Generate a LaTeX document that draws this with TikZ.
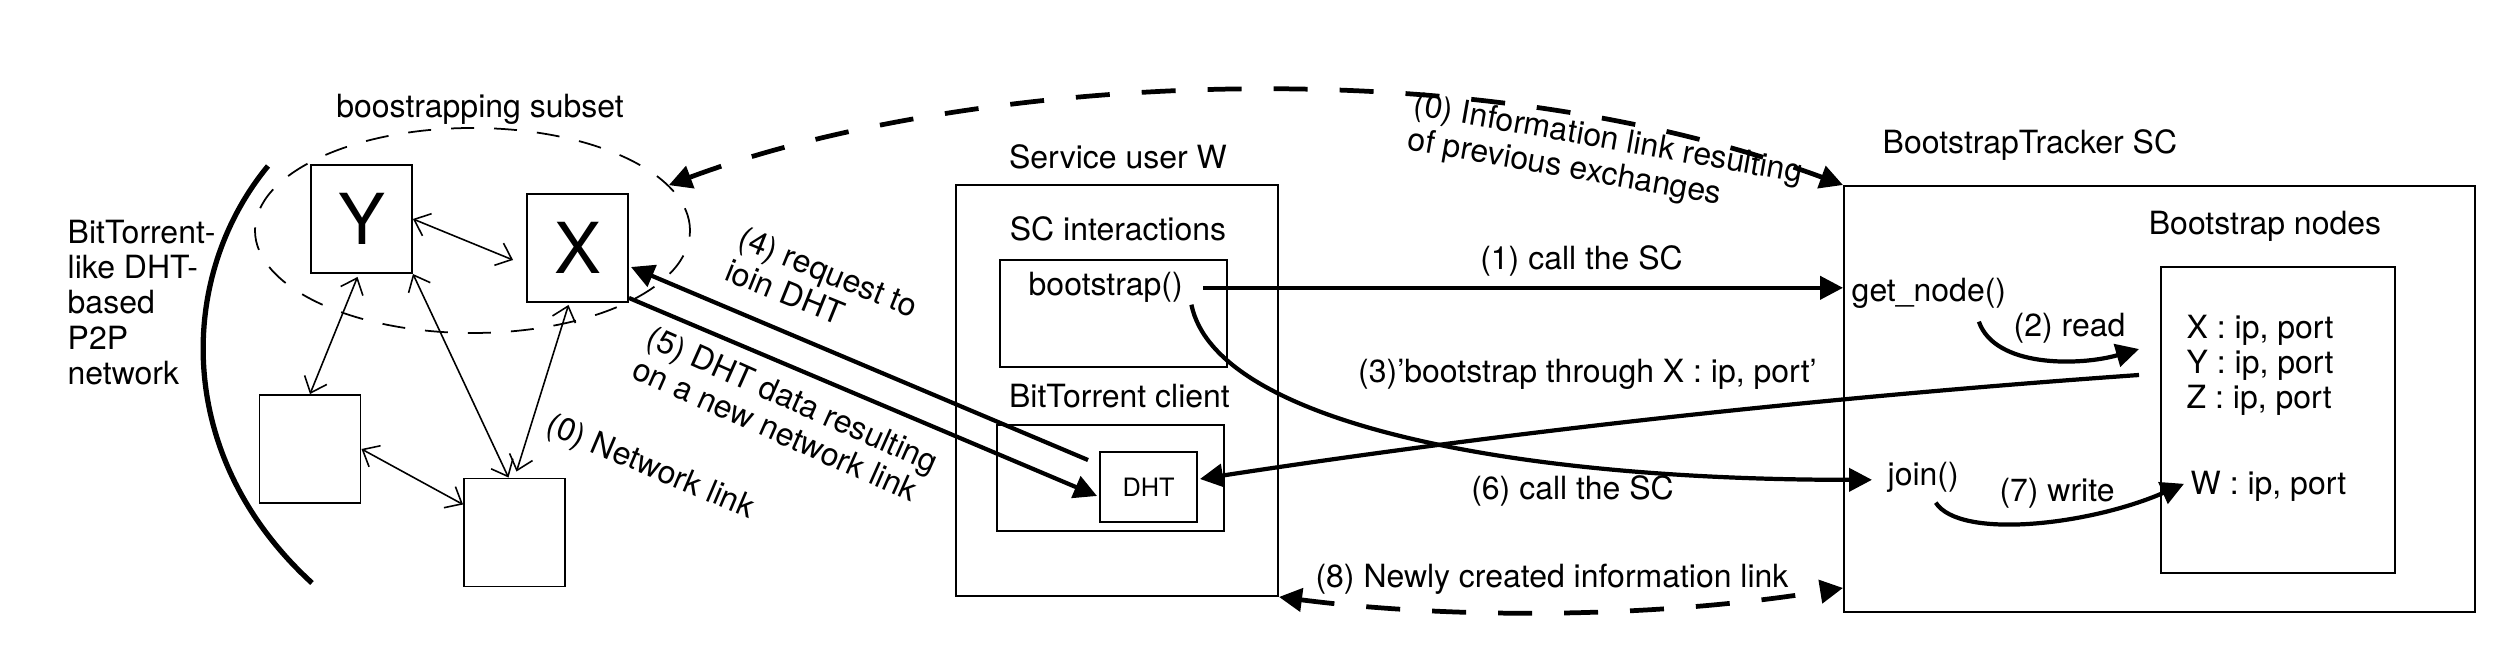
\documentclass[tikz,border=0pt]{standalone}
\usepackage{fontspec}
\setmainfont{TeX Gyre Heros}
\usetikzlibrary{arrows.meta,positioning,shapes.geometric}
\tikzset{>={Triangle[length=2.3mm,width=2.3mm]},
  peer/.style={draw,line width=0.55pt,minimum width=1.01cm,minimum height=1.08cm,
    inner sep=0pt,font=\fontsize{20}{24}\selectfont},
  frame/.style={draw,line width=0.55pt,inner sep=0pt},
  lbl/.style={inner sep=0pt},
  link/.style={line width=0.45pt,>={Straight Barb[length=1.4mm,width=2.4mm]},<->},
  flow/.style={line width=1.2pt},
  infolink/.style={line width=1.35pt,dash pattern=on 3.4mm off 3.2mm,<->},
  group/.style={draw,ellipse,line width=0.5pt,dash pattern=on 2.3mm off 2mm,inner sep=0pt}}

\begin{document}
\begin{tikzpicture}[x=1cm,y=-1cm,font=\fontsize{9.1}{10}\selectfont]
  \useasboundingbox (0,0) rectangle (25.16,6.62);
  % P2P network side
  \node[lbl,anchor=west,align=left] (net) at (0.67,3.025) {BitTorrent-\\like DHT-\\based\\P2P\\network};
  \draw[line width=1.5pt] (2.68,1.66) .. controls (1.78,2.75) and (1.72,4.55) .. (3.12,5.83);
  \node[group,minimum width=4.35cm,minimum height=2.05cm] (subset) at (4.725,2.305) {};
  \node[lbl,anchor=base] (subsetlbl) at (4.80,1.18) {boostrapping subset};
  \node[peer] (Y) at (3.615,2.19) {Y};
  \node[peer] (X) at (5.775,2.48) {X};
  \node[peer] (p1) at (3.10,4.49) {};
  \node[peer] (p2) at (5.145,5.325) {};
  \draw[link] (Y.east) -- ([shift={(-0.13,0.12)}]X.west);
  \draw[link] ([shift={(-0.04,0.03)}]Y.south) -- (p1.north);
  \draw[link] (Y.south east) -- ([shift={(-0.06,0)}]p2.north);
  \draw[link] ([shift={(-0.09,0.02)}]X.south) -- ([shift={(0.02,-0.06)}]p2.north);
  \draw[link] (p1.east) -- ([shift={(0,-0.28)}]p2.west);
  \node[lbl,rotate=-23] (netlink) at (6.50,4.68) {(0) Network link};

  % service user
  \node[frame,minimum width=3.22cm,minimum height=4.11cm] (user) at (11.17,3.905) {};
  \node[lbl,anchor=base] (userlbl) at (11.18,1.69) {Service user W};
  \node[lbl,anchor=base] (sclbl) at (11.18,2.41) {SC interactions};
  \node[frame,minimum width=2.27cm,minimum height=1.07cm] (scbox) at (11.135,3.135) {};
  \node[lbl,anchor=base west] (bs) at (10.28,2.96) {bootstrap()};
  \node[lbl,anchor=base] (btlbl) at (11.195,4.08) {BitTorrent client};
  \node[frame,minimum width=2.27cm,minimum height=1.06cm] (btbox) at (11.105,4.78) {};
  \node[frame,minimum width=0.97cm,minimum height=0.70cm,font=\fontsize{7.2}{8}\selectfont] (dht) at (11.485,4.87) {DHT};

  % smart contract
  \node[frame,minimum width=6.31cm,minimum height=4.26cm] (tracker) at (21.595,3.99) {};
  \node[lbl,anchor=base west] (trlbl) at (18.82,1.54) {BootstrapTracker SC};
  \node[lbl,anchor=base] (nodeslbl) at (22.65,2.35) {Bootstrap nodes};
  \node[frame,minimum width=2.34cm,minimum height=3.06cm] (nodes) at (22.78,4.20) {};
  \node[lbl,anchor=base west] (gn) at (18.51,3.02) {get\_node()};
  \node[lbl,anchor=north west,align=left] (addr) at (21.86,3.14) {X : ip, port\\Y : ip, port\\Z : ip, port};
  \node[lbl,anchor=base west] (join) at (18.87,4.86) {join()};
  \node[lbl,anchor=base west] (waddr) at (21.90,4.95) {W : ip, port};

  % steps
  \draw[infolink] (subset.13) .. controls (9.5,0.8) and (14.5,0.4) .. (tracker.north west);
  \node[lbl,rotate=-10,align=left] (l0) at (16.05,1.58) {(0) Information link resulting\\of previous exchanges};
  \coordinate (c1) at ([xshift=0.2cm]bs.east);
  \draw[flow,->] (c1) -- (c1 -| tracker.west);
  \node[lbl,anchor=base] (l1) at (15.815,2.70) {(1) call the SC};
  \draw[flow,->] ([shift={(0.5,0.12)}]gn.south) .. controls (19.95,3.68) and (20.80,3.66) .. ([shift={(-0.21,0.83)}]nodes.north west);
  \node[lbl,anchor=base] (l2) at (20.695,3.37) {(2) read};
  \draw[flow,->] ([shift={(-0.21,-0.45)}]nodes.west) .. controls (18.27,3.97) and (15.13,4.31) .. ([shift={(0.02,-0.08)}]dht.east);
  \node[lbl,anchor=base] (l3) at (15.875,3.83) {(3)’bootstrap through X : ip, port’};
  \draw[flow,<-] ([shift={(0.02,0.19)}]X.east) -- ([shift={(-0.11,0.09)}]dht.north west);
  \node[lbl,rotate=-22,align=left] (l4) at (8.22,2.88) {(4) request to\\ioin DHT};
  \draw[flow,->] ([shift={(0,-0.05)}]X.south east) -- ([shift={(-0.02,0.09)}]dht.west);
  \node[lbl,rotate=-24,align=left] (l5) at (7.86,4.15) {(5) DHT data resulting\\on a new network link};
  \draw[flow,->] ([shift={(0.08,0.01)}]bs.south east) .. controls (12.15,4.20) and (15.00,4.80) .. ([shift={(-0.15,0.02)}]join.west);
  \node[lbl,anchor=base] (l6) at (15.725,5.00) {(6) call the SC};
  \draw[flow,->] ([shift={(0.125,0.09)}]join.south) .. controls (19.60,5.40) and (20.90,5.25) .. ([shift={(-0.06,-0.03)}]waddr.west);
  \node[lbl,anchor=base] (l7) at (20.57,5.02) {(7) write};
  \draw[infolink] (user.south east) .. controls (14.5,6.19) and (16.5,6.19) .. ([shift={(0,-0.25)}]tracker.south west);
  \node[lbl,anchor=base] (l8) at (15.52,5.88) {(8) Newly created information link};
\end{tikzpicture}
\end{document}
